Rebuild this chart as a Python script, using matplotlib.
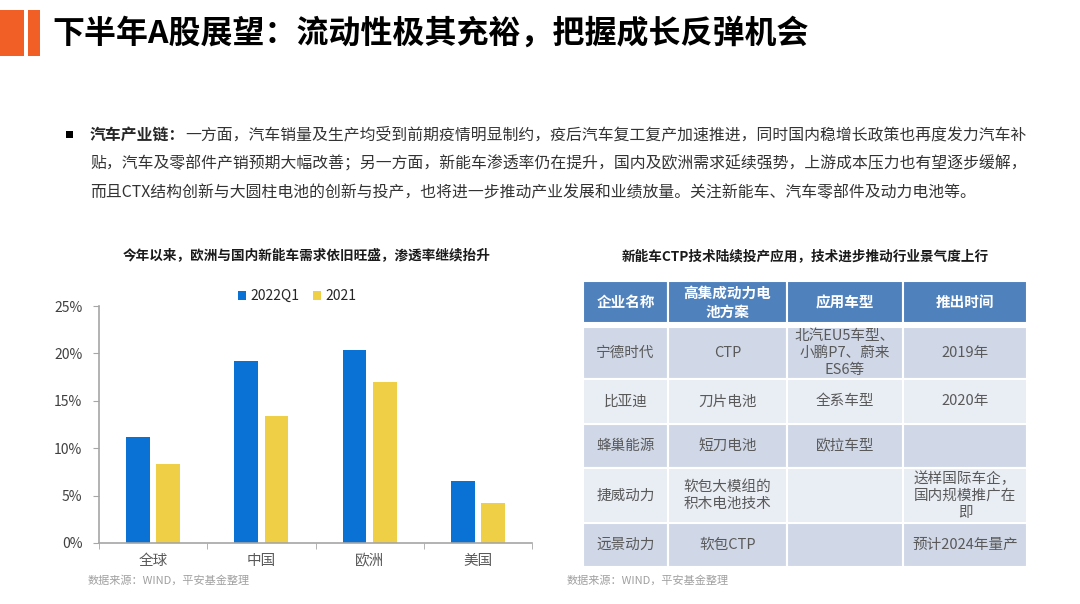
import numpy as np
import matplotlib
matplotlib.use("Agg")
import matplotlib.pyplot as plt
from matplotlib.patches import Rectangle
from matplotlib.ticker import FuncFormatter

plt.rcParams['font.family'] = ['Noto Sans CJK SC', 'DejaVu Sans']

# ---------- 数据 ----------
REGIONS = ["全球", "中国", "欧洲", "美国"]
PEN_2022Q1 = [11.2, 19.2, 20.4, 6.5]
PEN_2021 = [8.3, 13.4, 17.0, 4.2]
SERIES_NAMES = ["2022Q1", "2021"]
Y_TICKS = [0, 5, 10, 15, 20, 25]

TABLE_HEADER = ["企业名称", "高集成动力电\n池方案", "应用车型", "推出时间"]
TABLE_ROWS = [
    ["宁德时代", "CTP", "北汽EU5车型、\n小鹏P7、蔚来\nES6等", "2019年"],
    ["比亚迪", "刀片电池", "全系车型", "2020年"],
    ["蜂巢能源", "短刀电池", "欧拉车型", ""],
    ["捷威动力", "软包大模组的\n积木电池技术", "", "送样国际车企，\n国内规模推广在\n即"],
    ["远景动力", "软包CTP", "", "预计2024年量产"],
]

TITLE = "下半年A股展望：流动性极其充裕，把握成长反弹机会"
BULLET_HEAD = "汽车产业链："
BULLET_LINES = [
    "一方面，汽车销量及生产均受到前期疫情明显制约，疫后汽车复工复产加速推进，同时国内稳增长政策也再度发力汽车补",
    "贴，汽车及零部件产销预期大幅改善；另一方面，新能车渗透率仍在提升，国内及欧洲需求延续强势，上游成本压力也有望逐步缓解，",
    "而且CTX结构创新与大圆柱电池的创新与投产，也将进一步推动产业发展和业绩放量。关注新能车、汽车零部件及动力电池等。",
]
CHART_TITLE = "今年以来，欧洲与国内新能车需求依旧旺盛，渗透率继续抬升"
TABLE_TITLE = "新能车CTP技术陆续投产应用，技术进步推动行业景气度上行"
SOURCE = "数据来源：WIND，平安基金整理"

# ---------- 样式 ----------
W, H = 1080, 604
ORANGE = "#F15F26"
BLUE = "#0A72D4"
YELLOW = "#EFCF46"
HEAD_BLUE = "#4F81BD"
ROW_DARK = "#D0D8E8"
ROW_LIGHT = "#E9EDF4"
GRAY_TXT = "#595959"
AXIS_GRAY = "#A6A6A6"

COL_EDGES = [583, 668, 787, 903, 1027]
ROW_EDGES = [327, 379, 424, 468, 523, 567]
HEAD_TOP, HEAD_BOT = 281, 323

fig = plt.figure(figsize=(W / 100, H / 100), dpi=100)
fig.patch.set_facecolor("white")

# 覆盖整页的像素坐标轴
ax0 = fig.add_axes([0, 0, 1, 1])
ax0.set_xlim(0, W)
ax0.set_ylim(H, 0)
ax0.axis("off")

# ---------- 标题 ----------
ax0.add_patch(Rectangle((0, 10), 24, 46, color=ORANGE, lw=0))
ax0.add_patch(Rectangle((28, 10), 12, 46, color=ORANGE, lw=0))
ax0.text(52, 34, TITLE, fontsize=23, weight="bold", color="black", va="center", ha="left")

# ---------- 正文 ----------
ax0.add_patch(Rectangle((66, 131), 7, 7, color="black", lw=0))
head = ax0.text(90, 135, BULLET_HEAD, fontsize=11.4, weight="bold", color="#262626",
                va="center", ha="left")
fig.canvas.draw()
x_rest = head.get_window_extent().x1
ax0.text(x_rest, 135, BULLET_LINES[0], fontsize=11.4, color="#333333", va="center", ha="left")
ax0.text(90, 164, BULLET_LINES[1], fontsize=11.4, color="#333333", va="center", ha="left")
ax0.text(90, 193, BULLET_LINES[2], fontsize=11.4, color="#333333", va="center", ha="left")

# ---------- 左侧柱状图 ----------
ax0.text(307, 256, CHART_TITLE, fontsize=9.8, weight="bold", color="#1a1a1a",
         ha="center", va="center")

ax = fig.add_axes([99 / W, 1 - 543 / H, (532 - 99) / W, (543 - 306) / H])
x = np.arange(len(REGIONS))
ax.bar(x - 0.14, PEN_2022Q1, width=0.22, color=BLUE, label=SERIES_NAMES[0])
ax.bar(x + 0.14, PEN_2021, width=0.22, color=YELLOW, label=SERIES_NAMES[1])
ax.set_xlim(-0.5, len(REGIONS) - 0.5)
ax.set_ylim(0, 25)
ax.set_yticks(Y_TICKS)
ax.yaxis.set_major_formatter(FuncFormatter(lambda v, p: f"{v:.0f}%"))
ax.set_xticks(x, REGIONS)
ax.set_xticks(np.arange(-0.5, len(REGIONS)), minor=True)
for s in ["top", "right"]:
    ax.spines[s].set_visible(False)
for s in ["left", "bottom"]:
    ax.spines[s].set_color(AXIS_GRAY)
    ax.spines[s].set_linewidth(1.2)
ax.tick_params(axis="y", length=4, color=AXIS_GRAY, labelsize=10, labelcolor="#404040", pad=8)
ax.tick_params(axis="x", which="major", length=0, labelsize=10.5, labelcolor=GRAY_TXT, pad=8)
ax.tick_params(axis="x", which="minor", length=4, color=AXIS_GRAY)
ax.patch.set_alpha(0)

fig.legend(loc="center", bbox_to_anchor=(297 / W, 1 - 296 / H), ncol=2, frameon=False,
           fontsize=10, handlelength=0.6, handleheight=0.6, handletextpad=0.3,
           columnspacing=1.0, labelcolor="#262626")

ax0.text(88, 580, SOURCE, fontsize=8, color="#A0A0A0", ha="left", va="center")

# ---------- 右侧表格 ----------
ax0.text(805, 256, TABLE_TITLE, fontsize=9.8, weight="bold", color="#1a1a1a",
         ha="center", va="center")

for j, label in enumerate(TABLE_HEADER):
    x0, x1 = COL_EDGES[j], COL_EDGES[j + 1]
    ax0.add_patch(Rectangle((x0, HEAD_TOP), x1 - x0, HEAD_BOT - HEAD_TOP,
                            facecolor=HEAD_BLUE, edgecolor="white", lw=1.5))
    ax0.text((x0 + x1) / 2, (HEAD_TOP + HEAD_BOT) / 2, label, fontsize=10.5, weight="bold",
             color="white", ha="center", va="center", linespacing=1.2)

for i, row in enumerate(TABLE_ROWS):
    y0, y1 = ROW_EDGES[i], ROW_EDGES[i + 1]
    fc = ROW_DARK if i % 2 == 0 else ROW_LIGHT
    for j, val in enumerate(row):
        x0, x1 = COL_EDGES[j], COL_EDGES[j + 1]
        ax0.add_patch(Rectangle((x0, y0), x1 - x0, y1 - y0,
                                facecolor=fc, edgecolor="white", lw=1.5))
        if val:
            ax0.text((x0 + x1) / 2, (y0 + y1) / 2, val, fontsize=10.5, color=GRAY_TXT,
                     ha="center", va="center", linespacing=1.25)

ax0.text(567, 580, SOURCE, fontsize=8, color="#A0A0A0", ha="left", va="center")

fig.savefig("out.png", dpi=100, facecolor="white")
